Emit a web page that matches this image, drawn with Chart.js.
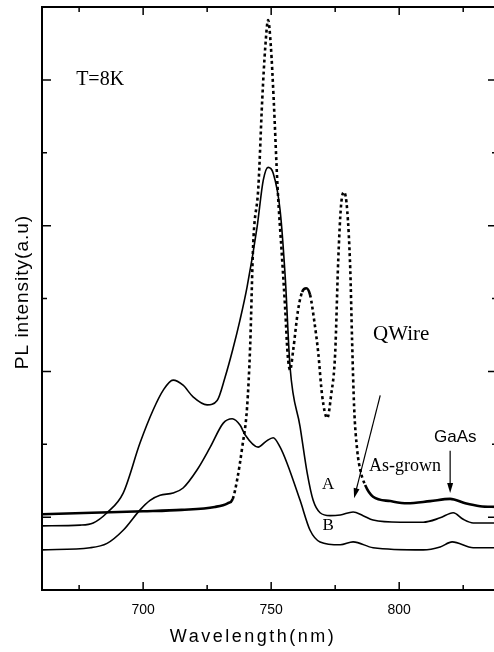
<!DOCTYPE html>
<html>
<head>
<meta charset="utf-8">
<script src="https://cdn.jsdelivr.net/npm/chart.js@4.4.1/dist/chart.umd.min.js"></script>
<style>
  html, body { margin: 0; padding: 0; background: #fff; overflow: hidden; }
  #wrap { width: 500px; height: 652px; }
</style>
</head>
<body>
<div id="wrap"><canvas id="chart" width="500" height="652"></canvas></div>
<script>
// PL spectra at T=8K (arbitrary units)
const qwireWavelength = [660.5, 680, 700, 715, 728, 733, 735, 736.7, 738.7, 740.6, 741.8, 743.0, 745.0, 746.5, 747.7, 748.8,
  749.9, 751.0, 752.5, 754.3, 755.5, 756.4, 757.4, 758.6, 760.5, 762.1, 763.7, 765.2, 766.8, 768.4, 769.9, 771.9,
  773.4, 775.0, 776.2, 777.3, 778.5, 779.7, 780.9, 781.6, 782.4, 783.6, 784.8, 786.7, 789.8, 796.5, 803.1, 812.1,
  819.9, 825.8, 831.6, 838.2];
const qwireIntensity = [1.04, 1.06, 1.08, 1.10, 1.14, 1.19, 1.25, 1.51, 1.96, 2.51, 3.35, 4.76, 5.53, 6.72, 7.45, 7.82,
  7.45, 6.72, 5.53, 4.53, 3.84, 3.25, 3.02, 3.29, 3.84, 4.09, 4.14, 4.05, 3.70, 3.25, 2.67, 2.36,
  2.67, 3.25, 4.53, 5.28, 5.46, 5.21, 4.39, 3.43, 2.51, 1.92, 1.65, 1.44, 1.28, 1.22, 1.19, 1.22,
  1.25, 1.19, 1.15, 1.14];

const aWavelength = [660.5, 675.4, 680.5, 685.9, 692.2, 698.8, 703.9, 707.8, 711.7, 715.6, 719.5, 725.0, 728.9, 732.0,
  735.0, 737.8, 740.6, 744.5, 746.9, 748.8, 750.8, 753.5, 755.5, 757.4, 761.3, 764.1, 766.4, 769.1, 773.0, 777.0, 782.0,
  785.9, 789.8, 800.4, 809.4, 816.0, 821.1, 825.0, 828.9, 838.2];
const aIntensity = [0.88, 0.89, 0.92, 1.06, 1.33, 2.02, 2.47, 2.74, 2.88, 2.81, 2.65, 2.54, 2.60, 2.92,
  3.30, 3.70, 4.16, 4.98, 5.62, 5.80, 5.72, 5.21, 4.29, 3.05, 2.24, 1.60, 1.23, 1.06, 1.02, 1.03, 1.07,
  1.02, 0.96, 0.93, 0.93, 0.99, 1.06, 0.97, 0.92, 0.92];

const bWavelength = [660.5, 679.3, 685.9, 692.2, 698.8, 702.7, 706.6, 711.7, 715.6, 721.1, 726.2, 731.3, 734.8, 737.9,
  739.8, 744.9, 748.0, 750.8, 753.5, 756.2, 761.3, 765.2, 769.1, 777.0, 782.0, 789.8, 809.4, 816.0, 820.7, 828.9, 838.2];
const bIntensity = [0.55, 0.58, 0.64, 0.82, 1.10, 1.23, 1.30, 1.33, 1.40, 1.65, 1.96, 2.29, 2.35, 2.26,
  2.13, 1.96, 2.04, 2.09, 1.96, 1.74, 1.23, 0.82, 0.66, 0.62, 0.66, 0.58, 0.55, 0.59, 0.66, 0.58, 0.58];

const xTickValues = [675, 700, 725, 750, 775, 800, 825];
const xTickLabels = [700, 750, 800];
const yTickValues = [1, 2, 3, 4, 5, 6, 7];
const yMajorTicks = [1, 3, 5, 7];

const SERIF = '"Liberation Serif", "DejaVu Serif", serif';
const SANS = '"Liberation Sans", Arial, sans-serif';

function toPoints(xs, ys) {
  return xs.map((x, i) => ({ x, y: ys[i] }));
}

// box, inward ticks, axis titles and the text labels of the figure
const framePlugin = {
  id: 'frame',
  afterDatasetsDraw(chart) {
    const { ctx, chartArea: a, scales: { x, y } } = chart;
    ctx.save();
    ctx.strokeStyle = '#000';
    ctx.lineWidth = 2;
    ctx.strokeRect(a.left, a.top, a.right - a.left, a.bottom - a.top);

    ctx.lineWidth = 1.5;
    ctx.beginPath();
    xTickValues.forEach(v => {
      const px = x.getPixelForValue(v);
      const len = xTickLabels.includes(v) ? 8 : 5;
      ctx.moveTo(px, a.bottom); ctx.lineTo(px, a.bottom - len);
      ctx.moveTo(px, a.top); ctx.lineTo(px, a.top + len);
    });
    yTickValues.forEach(v => {
      const py = y.getPixelForValue(v);
      const len = yMajorTicks.includes(v) ? 9 : 5;
      ctx.moveTo(a.left, py); ctx.lineTo(a.left + len, py);
      ctx.moveTo(a.right, py); ctx.lineTo(a.right - len, py);
    });
    ctx.stroke();

    ctx.fillStyle = '#000';
    ctx.textAlign = 'center';
    ctx.textBaseline = 'middle';
    const label = (text, vx, vy, font) => {
      ctx.font = font;
      ctx.fillText(text, x.getPixelForValue(vx), y.getPixelForValue(vy));
    };
    label('T=8K', 683.2, 7.0, '20px ' + SERIF);
    label('QWire', 800.8, 3.5, '21px ' + SERIF);
    label('GaAs', 821.9, 2.1, '17px ' + SANS);
    label('As-grown', 802.3, 1.70, '18px ' + SERIF);
    label('A', 772.3, 1.45, '17px ' + SERIF);
    label('B', 772.3, 0.89, '17px ' + SERIF);

    const arrow = (x0, y0, x1, y1) => {
      const ax = x.getPixelForValue(x0), ay = y.getPixelForValue(y0);
      const bx = x.getPixelForValue(x1), by = y.getPixelForValue(y1);
      const ang = Math.atan2(by - ay, bx - ax);
      ctx.lineWidth = 1.2;
      ctx.beginPath();
      ctx.moveTo(ax, ay);
      ctx.lineTo(bx - 8 * Math.cos(ang), by - 8 * Math.sin(ang));
      ctx.stroke();
      ctx.beginPath();
      ctx.moveTo(bx, by);
      ctx.lineTo(bx - 10 * Math.cos(ang) + 3 * Math.sin(ang), by - 10 * Math.sin(ang) - 3 * Math.cos(ang));
      ctx.lineTo(bx - 10 * Math.cos(ang) - 3 * Math.sin(ang), by - 10 * Math.sin(ang) + 3 * Math.cos(ang));
      ctx.closePath();
      ctx.fill();
    };
    arrow(792.6, 2.67, 782.4, 1.26);
    arrow(819.9, 1.91, 819.9, 1.33);

    // axis titles
    ctx.font = '18px ' + SANS;
    ctx.letterSpacing = '2.5px';
    ctx.fillText('Wavelength(nm)', 253, 637);
    ctx.letterSpacing = '1px';
    ctx.font = '19px ' + SANS;
    ctx.translate(23, 292);
    ctx.rotate(-Math.PI / 2);
    ctx.fillText('PL intensity(a.u)', 0, 0);
    ctx.restore();
  }
};

const steepDash = c => {
  const dx = Math.abs(c.p1.x - c.p0.x), dy = Math.abs(c.p1.y - c.p0.y);
  return dy > 2.5 * dx ? [3, 3] : undefined;
};

new Chart(document.getElementById('chart'), {
  type: 'line',
  data: {
    datasets: [
      {
        label: 'QWire',
        data: toPoints(qwireWavelength, qwireIntensity),
        borderColor: '#000',
        borderWidth: 2.6,
        segment: { borderDash: steepDash },
      },
      {
        label: 'A',
        data: toPoints(aWavelength, aIntensity),
        borderColor: '#000',
        borderWidth: 1.6,
      },
      {
        label: 'B',
        data: toPoints(bWavelength, bIntensity),
        borderColor: '#000',
        borderWidth: 1.6,
      },
    ],
  },
  options: {
    responsive: false,
    animation: false,
    events: [],
    layout: { padding: { top: 7, right: 3, left: 0, bottom: 0 } },
    elements: {
      point: { radius: 0 },
      line: { cubicInterpolationMode: 'monotone', fill: false },
    },
    scales: {
      x: {
        type: 'linear',
        min: 660.5,
        max: 838.2,
        grid: { display: false, drawTicks: false },
        border: { display: false },
        afterBuildTicks: s => { s.ticks = xTickValues.map(v => ({ value: v })); },
        afterFit: s => { s.height = 62; },
        ticks: {
          autoSkip: false,
          padding: 12,
          color: '#000',
          font: { family: SANS, size: 14 },
          callback: v => (xTickLabels.includes(v) ? String(v) : ''),
        },
      },
      y: {
        min: 0,
        max: 8,
        grid: { display: false, drawTicks: false },
        border: { display: false },
        afterBuildTicks: s => { s.ticks = yTickValues.map(v => ({ value: v })); },
        afterFit: s => { s.width = 42; },
        ticks: { display: false },
      },
    },
    plugins: {
      legend: { display: false },
      tooltip: { enabled: false },
    },
  },
  plugins: [framePlugin],
});
</script>
</body>
</html>
